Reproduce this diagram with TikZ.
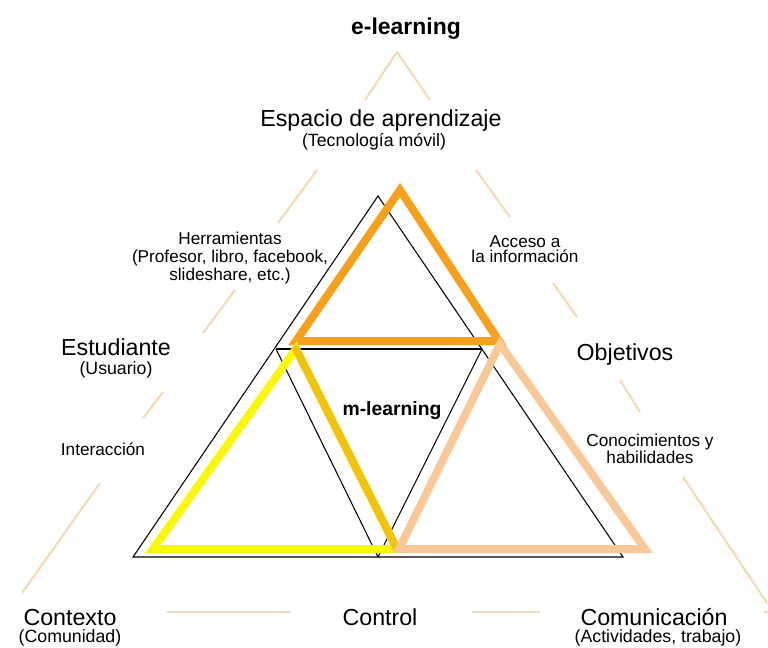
\documentclass[tikz,border=0pt]{standalone}
\usepackage{fontspec}
\setmainfont{Liberation Sans}
\definecolor{elorange}{HTML}{F6A01C}
\definecolor{elyellow}{HTML}{F8F808}
\definecolor{elgold}{HTML}{F2C30E}
\definecolor{elpeach}{HTML}{F8C898}
\definecolor{elguide}{HTML}{F3DAB9}
\tikzset{
  toplabel/.style={font=\fontsize{17.4}{19}\selectfont, anchor=base, inner sep=0},
  sublabel/.style={font=\fontsize{13.3}{14}\selectfont, anchor=base, inner sep=0},
  notelabel/.style={font=\fontsize{12.9}{11.6}\selectfont, align=center, inner sep=0},
  tri/.style={line width=6pt, line join=miter},
  guideline/.style={draw=elguide, line width=1.6pt},
}

\begin{document}
\begin{tikzpicture}[x=0.75pt, y=-0.75pt]
	\useasboundingbox (0,0) rectangle (768,647);
	%% faint outer triangle, broken by the labels
	\foreach \a/\b in {{397,52}/{365,100}, {317,170}/{278,223}, {235,290}/{203,333},
	                   {163,392}/{143,418}, {100,483}/{22,593},
	                   {397,52}/{430,100}, {476,170}/{510,217}, {553,283}/{577,317},
	                   {620,380}/{640,412}, {683,477}/{767,603},
	                   {167,612}/{290,612}, {472,612}/{540,612}, {764,612}/{768,612}}
		\draw[guideline] (\a) -- (\b);
	%% thin black triangles
	\draw[thick] (133,557) -- (378,196) -- (623,557) -- cycle;
	\draw[thick] (276,349) -- (482,349);
	\draw[thick] (276,349) -- (378,557) -- (482,349);
	%% coloured triangles
	\draw[tri, elorange] (400,190) -- (499,341) -- (296,341) -- cycle;
	\draw[tri, elyellow] (296,349) -- (397,549) -- (153,549) -- cycle;
	\draw[tri, elgold, line cap=round] (296,349) -- (397,549);
	\draw[tri, elpeach] (500,344) -- (645,549) -- (399,549) -- cycle;
	%% labels
	\node[toplabel, font=\fontsize{17.2}{19}\selectfont\bfseries] (elearn) at (406,34) {e-learning};
	\node[toplabel] (espacio) at (381,126) {Espacio de aprendizaje};
	\node[sublabel] (tecno) at (374,146) {(Tecnología móvil)};
	\node[notelabel, font=\fontsize{12.9}{13.6}\selectfont] (herram) at (230,258)
		{Herramientas\\(Profesor, libro, facebook,\\slideshare, etc.)};
	\node[notelabel] (acceso) at (525,249) {Acceso a\\la información};
	\node[toplabel] (estud) at (116,355) {Estudiante};
	\node[sublabel] (usuario) at (116,374) {(Usuario)};
	\node[toplabel] (objet) at (625,360) {Objetivos};
	\node[notelabel, anchor=base] (interac) at (103,455) {Interacción};
	\node[notelabel] (conoc) at (650,449) {Conocimientos y\\habilidades};
	\node[toplabel, font=\fontsize{14.5}{16}\selectfont\bfseries] (mlearn) at (392,415) {m-learning};
	\node[toplabel] (contexto) at (70,625) {Contexto};
	\node[sublabel] (comunidad) at (70,642) {(Comunidad)};
	\node[toplabel] (control) at (380,625) {Control};
	\node[toplabel] (comunic) at (654,625) {Comunicación};
	\node[sublabel] (activ) at (658,642) {(Actividades, trabajo)};
\end{tikzpicture}
\end{document}
